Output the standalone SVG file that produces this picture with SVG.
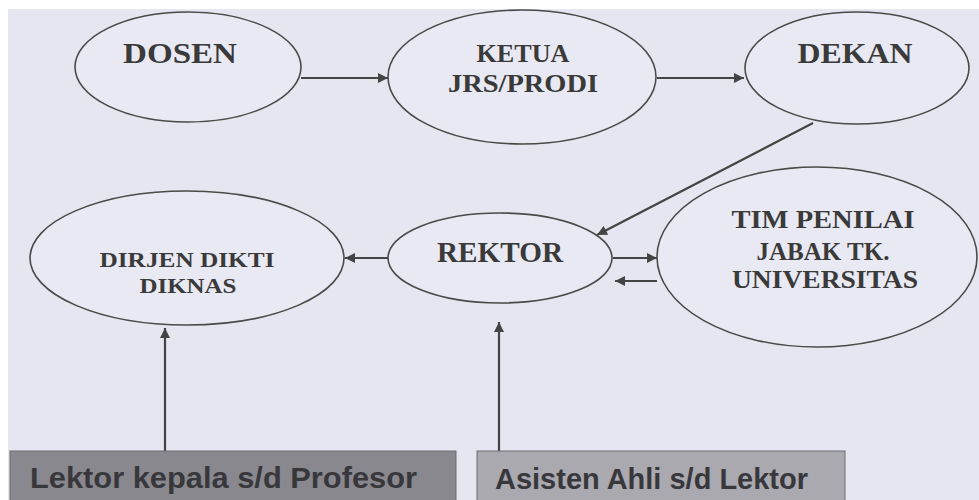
<svg xmlns="http://www.w3.org/2000/svg" width="979" height="500" viewBox="0 0 979 500">
<defs>
<style>
.node ellipse{fill:#e9e9f3;stroke:#4a4a4a;stroke-width:1.6}
.lbl{font-family:"Liberation Serif","DejaVu Serif",serif;font-weight:bold;fill:#3a3a3a;text-anchor:middle}
.box rect{stroke:#6a6a6e;stroke-width:1}
.btxt{font-family:"Liberation Sans","Arial",sans-serif;font-weight:bold;fill:#38383c}
.conn line{stroke:#444;stroke-width:2.2;marker-end:url(#ah)}
</style>
<marker id="ah" viewBox="0 0 10 10" refX="10" refY="5" markerWidth="11" markerHeight="10" markerUnits="userSpaceOnUse" orient="auto">
<path d="M0,0 L10,5 L0,10 z" fill="#444"/>
</marker>
</defs>
<rect x="0" y="0" width="979" height="500" fill="#ffffff"/>
<rect x="8" y="9" width="971" height="491" fill="#e6e6f0"/>

<g id="connectors" class="conn">
<line x1="301" y1="78" x2="388" y2="78"/>
<line x1="657" y1="78" x2="744" y2="78"/>
<line x1="813" y1="123" x2="597" y2="235"/>
<line x1="388" y1="258" x2="345" y2="258"/>
<line x1="613" y1="258" x2="657" y2="258"/>
<line x1="657" y1="281" x2="615" y2="281"/>
<line x1="165" y1="451" x2="165" y2="328"/>
<line x1="499" y1="451" x2="499" y2="322"/>
</g>

<g id="dosen" class="node">
<ellipse cx="188" cy="67" rx="113" ry="55"/>
<text class="lbl" x="180" y="63" font-size="29" textLength="114" lengthAdjust="spacingAndGlyphs">DOSEN</text>
</g>
<g id="ketua" class="node">
<ellipse cx="522" cy="77" rx="134" ry="67"/>
<text class="lbl" x="523" y="62" font-size="25" textLength="93" lengthAdjust="spacingAndGlyphs">KETUA</text>
<text class="lbl" x="523" y="92" font-size="25" textLength="150" lengthAdjust="spacingAndGlyphs">JRS/PRODI</text>
</g>
<g id="dekan" class="node">
<ellipse cx="857" cy="68" rx="112" ry="56"/>
<text class="lbl" x="855" y="63" font-size="29" textLength="115" lengthAdjust="spacingAndGlyphs">DEKAN</text>
</g>
<g id="rektor" class="node">
<ellipse cx="500" cy="258" rx="112" ry="45"/>
<text class="lbl" x="500" y="262" font-size="29" textLength="126" lengthAdjust="spacingAndGlyphs">REKTOR</text>
</g>
<g id="dirjen" class="node">
<ellipse cx="187" cy="258" rx="157" ry="67"/>
<text class="lbl" x="187" y="267" font-size="21" textLength="175" lengthAdjust="spacingAndGlyphs">DIRJEN DIKTI</text>
<text class="lbl" x="188" y="293" font-size="22" textLength="97" lengthAdjust="spacingAndGlyphs">DIKNAS</text>
</g>
<g id="tim" class="node">
<ellipse cx="817" cy="257" rx="160" ry="90"/>
<text class="lbl" x="823" y="228" font-size="26" textLength="183" lengthAdjust="spacingAndGlyphs">TIM PENILAI</text>
<text class="lbl" x="823" y="260" font-size="26" textLength="133" lengthAdjust="spacingAndGlyphs">JABAK TK.</text>
<text class="lbl" x="825" y="288" font-size="26" textLength="186" lengthAdjust="spacingAndGlyphs">UNIVERSITAS</text>
</g>

<g id="box-lektor-kepala" class="box">
<rect x="10" y="451" width="446" height="52" fill="#88888e"/>
<text class="btxt" x="30" y="488" font-size="30" textLength="387" lengthAdjust="spacingAndGlyphs">Lektor kepala s/d  Profesor</text>
</g>
<g id="box-asisten-ahli" class="box">
<rect x="477" y="451" width="368" height="52" fill="#a9a9af"/>
<text class="btxt" x="495" y="489" font-size="30" textLength="313" lengthAdjust="spacingAndGlyphs">Asisten Ahli s/d Lektor</text>
</g>
</svg>
